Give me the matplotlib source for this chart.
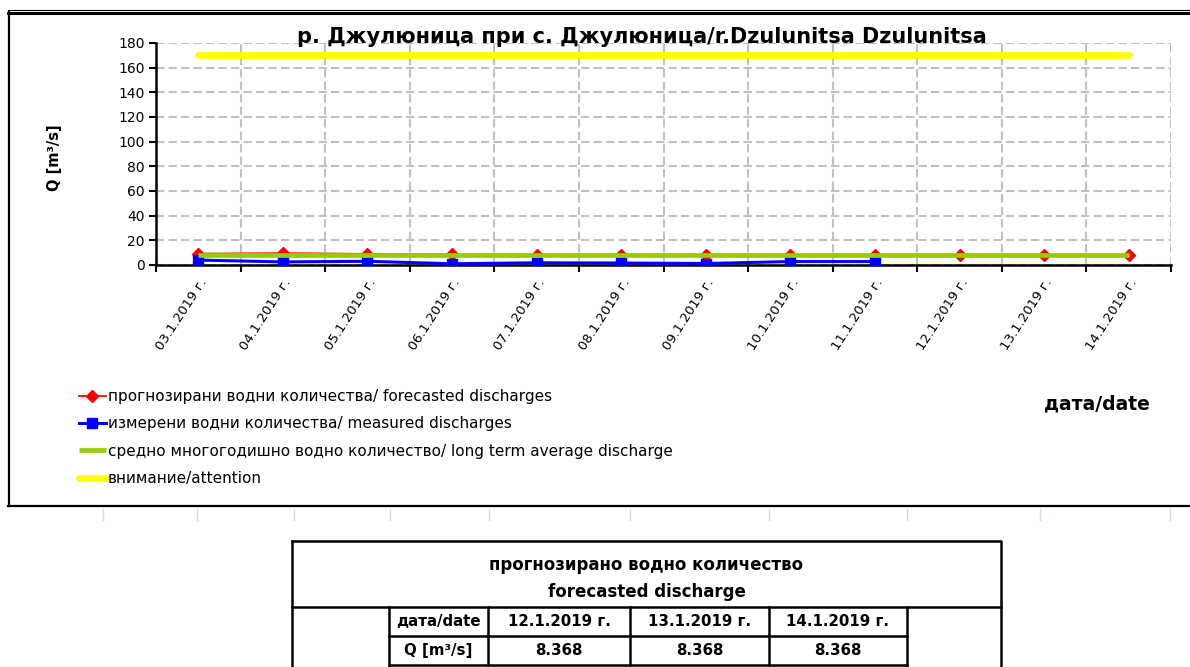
import matplotlib
matplotlib.use("Agg")
import matplotlib.pyplot as plt
import numpy as np

plt.rcParams["font.family"] = ["DejaVu Sans"]

# data
dates = ["03.1.2019 г.", "04.1.2019 г.", "05.1.2019 г.", "06.1.2019 г.",
         "07.1.2019 г.", "08.1.2019 г.", "09.1.2019 г.", "10.1.2019 г.",
         "11.1.2019 г.", "12.1.2019 г.", "13.1.2019 г.", "14.1.2019 г."]
forecast = [9.2, 9.6, 9.0, 8.6, 8.5, 8.5, 8.4, 8.4, 8.4, 8.368, 8.368, 8.368]
measured = [4.0, 2.5, 3.0, 1.0, 1.8, 1.6, 1.2, 2.8, 2.8]
long_term = [7.9] * 12
attention = [170] * 12

table_dates = ["12.1.2019 г.", "13.1.2019 г.", "14.1.2019 г."]
table_values = ["8.368", "8.368", "8.368"]

title = "р. Джулюница при с. Джулюница/r.Dzulunitsa Dzulunitsa"
legend_labels = [
    "прогнозирани водни количества/ forecasted discharges",
    "измерени водни количества/ measured discharges",
    "средно многогодишно водно количество/ long term average discharge",
    "внимание/attention",
]

W, H = 1190, 667
fig = plt.figure(figsize=(W / 100, H / 100), dpi=100)

# pixel canvas for frame and table
canvas = fig.add_axes([0, 0, 1, 1])
canvas.set_xlim(0, W)
canvas.set_ylim(H, 0)
canvas.axis("off")

# chart frame (double line on top)
canvas.plot([8, W], [9.5, 9.5], color="black", lw=0.8)
canvas.plot([8, W], [13, 13], color="black", lw=2.2)
canvas.plot([9, 9], [12, 506], color="black", lw=1.6)
canvas.plot([8, W], [506, 506], color="black", lw=1.6)

# faint sheet grid marks under the frame
for gx in [103, 197, 294, 390, 489, 630, 769, 907, 1040, 1170]:
    canvas.plot([gx, gx], [509, 520], color="#d4dbe6", lw=1)

# main plot area
L, R, T, B = 156, 1171, 43, 265
ax = fig.add_axes([L / W, 1 - B / H, (R - L) / W, (B - T) / H])
x = np.arange(len(dates))

ax.plot(x, forecast, color="red", lw=1.3, marker="D", ms=6.5, mec="red", mfc="red",
        label=legend_labels[0], zorder=3)
ax.plot(x[:len(measured)], measured, color="#0000ff", lw=2.2, marker="s", ms=7.5,
        mec="#0000ff", mfc="#0000ff", label=legend_labels[1], zorder=3)
ax.plot(x, long_term, color="#99cc00", lw=3.4, label=legend_labels[2], zorder=4,
        solid_capstyle="butt")
ax.plot(x, attention, color="#ffff00", lw=4.8, label=legend_labels[3], zorder=4,
        solid_capstyle="round")

ax.set_xlim(-0.5, len(dates) - 0.5)
ax.set_ylim(0, 180)
ax.set_yticks(np.arange(0, 181, 20))
ax.set_xticks(np.arange(-0.5, len(dates), 1.0))
ax.set_xticklabels([])
ax.set_xticks(x, minor=True)
ax.set_xticklabels(dates, minor=True, rotation=57, ha="right", va="top",
                   rotation_mode="anchor", fontsize=9.5)
ax.tick_params(axis="x", which="minor", length=0, pad=8)
ax.tick_params(axis="x", which="major", length=5, width=1.5, direction="out")
ax.tick_params(axis="y", length=5, width=1.5, direction="out", labelsize=10, pad=3)
ax.grid(True, which="major", color="#c0c0c0", lw=1.5, linestyle=(0, (4, 2)))
ax.set_axisbelow(True)
for s in ["top", "right"]:
    ax.spines[s].set_visible(False)
for s in ["left", "bottom"]:
    ax.spines[s].set_linewidth(1.8)

fig.text(55 / W, 1 - 158 / H, "Q [m³/s]", fontsize=10.5, fontweight="bold",
         rotation=90, ha="center", va="center")
fig.text(642 / W, 1 - 37 / H, title, fontsize=15, fontweight="bold",
         ha="center", va="center")
fig.text(1097 / W, 1 - 404 / H, "дата/date", fontsize=13.5, fontweight="bold",
         ha="center", va="center")

handles, labels = ax.get_legend_handles_labels()
fig.legend(handles, labels, loc="upper left", bbox_to_anchor=(79 / W, 1 - 389 / H),
           frameon=False, fontsize=11, handlelength=1.75, handletextpad=0.12,
           labelspacing=0.81, borderaxespad=0, borderpad=0)

# forecast table
tl, tr, tt = 292, 1001, 541
cols = [389, 488, 630, 769, 907]
row1, row2, tb = 607, 636, 665
lw_t = 1.8
canvas.plot([tl, tr, tr], [tt, tt, tb + 5], color="black", lw=lw_t)
canvas.plot([tl, tl], [tt, tb + 5], color="black", lw=lw_t)
canvas.plot([tl, tr], [row1, row1], color="black", lw=lw_t)
canvas.plot([cols[0], cols[-1]], [row2, row2], color="black", lw=lw_t)
canvas.plot([cols[0], cols[-1]], [tb, tb], color="black", lw=lw_t)
for c in cols:
    canvas.plot([c, c], [row1, tb], color="black", lw=lw_t)

tfs = 10.8
canvas.text((tl + tr) / 2, 565, "прогнозирано водно количество", fontsize=12,
            fontweight="bold", ha="center", va="center")
canvas.text((tl + tr) / 2, 592, "forecasted discharge", fontsize=12,
            fontweight="bold", ha="center", va="center")
canvas.text((cols[0] + cols[1]) / 2, (row1 + row2) / 2, "дата/date", fontsize=tfs,
            fontweight="bold", ha="center", va="center")
canvas.text((cols[0] + cols[1]) / 2, (row2 + tb) / 2, "Q [m³/s]", fontsize=tfs,
            fontweight="bold", ha="center", va="center")
for i in range(3):
    cx = (cols[i + 1] + cols[i + 2]) / 2
    canvas.text(cx, (row1 + row2) / 2, table_dates[i], fontsize=tfs,
                fontweight="bold", ha="center", va="center")
    canvas.text(cx, (row2 + tb) / 2, table_values[i], fontsize=tfs,
                fontweight="bold", ha="center", va="center")

fig.savefig("out.png", dpi=100)
